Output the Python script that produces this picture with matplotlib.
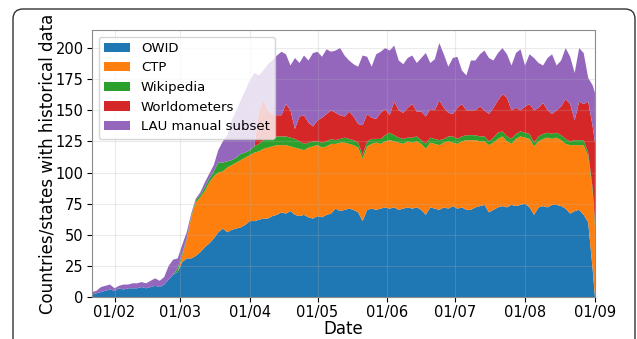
import pandas as pd
import matplotlib
matplotlib.use("Agg")
import matplotlib.pyplot as plt
import matplotlib.dates as mdates
from matplotlib.patches import FancyBboxPatch

plt.rcParams["font.family"] = ["DejaVu Sans"]

# datas a cada 2 dias, de 22/01 a 31/08/2020, mais 01/09
datas = pd.date_range("2020-01-22", "2020-08-31", freq="2D").append(pd.DatetimeIndex(["2020-09-01"]))

owid = [2, 3, 4, 5, 6, 5, 7, 6, 7, 7,
        7, 8, 7, 8, 9, 8, 10, 14, 18, 20,
        28, 31, 31, 33, 36, 40, 43, 47, 52, 55,
        52, 54, 55, 56, 58, 61, 61, 62, 63, 63,
        65, 66, 68, 67, 69, 66, 65, 66, 64, 63,
        65, 64, 66, 67, 71, 69, 70, 71, 70, 68,
        61, 70, 71, 70, 71, 72, 71, 72, 70, 71,
        72, 71, 72, 70, 66, 72, 71, 70, 72, 71,
        73, 71, 72, 70, 70, 72, 73, 74, 68, 70,
        72, 73, 72, 74, 73, 74, 75, 72, 66, 72,
        73, 72, 74, 74, 73, 71, 67, 69, 70, 66,
        60, 22, 0]

ctp = [0] * 20 + [
    5, 15, 33, 43, 44, 45, 49, 50, 48, 46,
    52, 52, 53, 54, 54, 53, 55, 55, 56, 57,
    56, 56, 54, 55, 52, 54, 54, 52, 56, 58,
    57, 56, 55, 56, 52, 55, 54, 52, 52, 52,
    50, 51, 52, 54, 52, 53, 55, 53, 54, 52,
    53, 53, 53, 53, 53, 52, 52, 52, 52, 54,
    51, 52, 53, 56, 56, 54, 52, 51, 54, 54,
    55, 56, 53, 49, 54, 55, 53, 55, 55, 53,
    54, 56, 53, 54, 53, 52, 55, 53, 52, 56,
    53, 62, 56]

wikipedia = [0] * 19 + [3,
    2, 1, 1, 2, 2, 3, 3, 4, 8, 7,
    5, 4, 4, 5, 4, 4, 5, 6, 7, 7,
    6, 7, 7, 7, 7, 7, 6, 5, 4, 4,
    3, 4, 4, 4, 3, 3, 4, 4, 4, 4,
    3, 4, 4, 3, 4, 5, 6, 5, 4, 4,
    3, 4, 4, 3, 4, 4, 4, 4, 3, 4,
    5, 4, 4, 4, 4, 4, 4, 4, 3, 4,
    5, 4, 4, 4, 4, 4, 4, 4, 3, 4,
    4, 4, 4, 4, 4, 4, 3, 4, 4, 4,
    3, 3, 4]

worldometers = [0] * 37 + [27, 32, 23,
    20, 17, 17, 26, 22, 8, 20, 23, 16, 12,
    17, 20, 22, 23, 22, 19, 17, 22, 19, 15,
    24, 22, 17, 16, 21, 21, 14, 27, 22, 21,
    24, 27, 20, 23, 22, 23, 23, 32, 25, 19,
    18, 25, 26, 20, 20, 20, 24, 21, 22, 24,
    26, 30, 31, 23, 21, 17, 21, 24, 26, 23,
    25, 18, 16, 18, 23, 32, 30, 16, 31, 29,
    41, 50, 64]

lau = [2, 2, 4, 4, 4, 2, 2, 4, 3, 4,
       4, 4, 4, 5, 6, 5, 6, 11, 12, 8,
       7, 5, 2, 1, 2, 4, 4, 5, 10, 17,
       21, 32, 38, 43, 50, 56, 59, 28, 24, 37,
       43, 48, 51, 40, 36, 57, 43, 48, 50, 59,
       55, 49, 52, 47, 50, 54, 49, 41, 42, 46,
       56, 46, 41, 52, 49, 49, 52, 45, 40, 39,
       40, 39, 39, 43, 51, 37, 41, 46, 43, 37,
       45, 41, 27, 28, 40, 40, 42, 48, 45, 38,
       38, 37, 35, 36, 44, 49, 33, 40, 42, 36,
       30, 42, 48, 36, 37, 41, 38, 38, 43, 41,
       19, 33, 40]

nomes = ["OWID", "CTP", "Wikipedia", "Worldometers", "LAU manual subset"]

fig = plt.figure(figsize=(6.37, 3.39), dpi=100)
ax = fig.add_axes([0.1444, 0.1239, 0.7896, 0.7876])

ax.stackplot(datas, owid, ctp, wikipedia, worldometers, lau, labels=nomes)

ax.set_xlim(datas[0], datas[-1])
ax.set_ylim(0, 214.5)
ax.set_yticks(range(0, 201, 25))
ax.xaxis.set_major_locator(mdates.MonthLocator())
ax.xaxis.set_major_formatter(mdates.DateFormatter("%d/%m"))
ax.tick_params(labelsize=10.5, pad=2.5)
ax.grid(alpha=0.25)
for s in ax.spines.values():
    s.set_color("0.55")

ax.set_xlabel("Date", fontsize=12, labelpad=0)
ax.set_ylabel("Countries/states with historical data", fontsize=12, labelpad=-1)
ax.legend(loc="upper left", fontsize=9.5)

# moldura arredondada em volta da figura
moldura = FancyBboxPatch((0.13, -0.5), 6.22, 3.8,
                         boxstyle="round,pad=0,rounding_size=0.1",
                         transform=fig.dpi_scale_trans,
                         facecolor="none", edgecolor="#333333", linewidth=1.0,
                         clip_on=False)
fig.add_artist(moldura)

fig.savefig("out.png", dpi=100)
